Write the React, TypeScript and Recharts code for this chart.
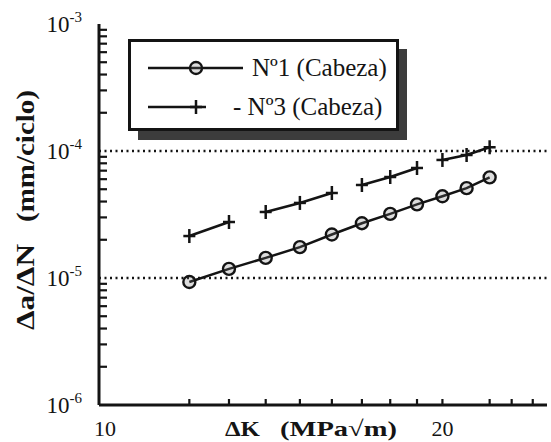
import React from 'react';
import { LineChart, Line, XAxis, YAxis, ReferenceLine, Legend } from 'recharts';

// ΔK (MPa√m)
const kValues = [12, 13, 14, 15, 16, 17, 18, 19, 20, 21, 22];
// Nº1 (Cabeza) da/dN (mm/ciclo)
const serieN1 = [9.3e-6, 1.18e-5, 1.44e-5, 1.75e-5, 2.2e-5, 2.7e-5, 3.2e-5, 3.8e-5, 4.4e-5, 5.1e-5, 6.2e-5];
// Nº3 (Cabeza) da/dN (mm/ciclo)
const serieN3 = [2.14e-5, 2.76e-5, 3.31e-5, 3.9e-5, 4.67e-5, 5.4e-5, 6.24e-5, 7.35e-5, 8.5e-5, 9.3e-5, 1.07e-4];
// segment of the Nº3 curve each point belongs to (the curve is drawn in pieces)
const serieN3Segment = [0, 0, 1, 1, 1, 2, 2, 2, 3, 3, 3];
const seriesNames = ['Nº1 (Cabeza)', '- Nº3 (Cabeza)'];

const xDomain = [10, 24.7];
const xTicks = [10, 12, 13, 14, 15, 16, 17, 18, 19, 20, 22, 23, 24];
const xLabelled = [10, 20];
const yDomain = [1e-6, 1e-3];
const yTicks = [
  1e-6, 2e-6, 3e-6, 4e-6, 5e-6, 6e-6, 7e-6, 8e-6, 9e-6,
  1e-5, 2e-5, 3e-5, 4e-5, 5e-5, 6e-5, 7e-5, 8e-5, 9e-5,
  1e-4, 2e-4, 3e-4, 4e-4, 5e-4, 6e-4, 7e-4, 8e-4, 9e-4,
  1e-3,
];
const dottedLevels = [1e-4, 1e-5];
const xTitleParts = ['ΔK', '(MPa√m)'];
const yTitleParts = ['Δa/ΔN', '(mm/ciclo)'];

const segKeys = ['n3a', 'n3b', 'n3c', 'n3d'];
const data = kValues.map((k, i) => {
  const row: any = { k, n1: serieN1[i] };
  segKeys.forEach((key, s) => {
    row[key] = serieN3Segment[i] === s ? serieN3[i] : null;
  });
  return row;
});

const W = 551;
const H = 442;
const PL = 99;
const PR = 547;
const PT = 24;
const PB = 405;
const INK = '#141414';
const FONT = 'Liberation Serif, Times New Roman, DejaVu Serif, serif';
const serif = { fontFamily: FONT };

const isDecade = (v: number) => Math.abs(Math.log10(v) - Math.round(Math.log10(v))) < 1e-6;

const LeftTick = (props: any) => {
  const { y, payload } = props;
  const v = payload.value;
  if (isDecade(v)) {
    const e = Math.round(Math.log10(v));
    return (
      <text x={PL - 17} y={y + 8} textAnchor="end" style={serif} fontSize={23} fill={INK}>
        <tspan>10</tspan>
        <tspan dy={-10} fontSize={15}>{String(e)}</tspan>
      </text>
    );
  }
  return <line x1={PL} x2={PL + 8} y1={y} y2={y} stroke={INK} strokeWidth={2.2} />;
};

const RightTick = (props: any) => {
  const { y, payload } = props;
  if (payload.value === yDomain[0] || payload.value === yDomain[1]) return <g />;
  return <line x1={PR} x2={PR - 6} y1={y} y2={y} stroke={INK} strokeWidth={2.2} />;
};

const BottomTick = (props: any) => {
  const { x, payload } = props;
  const v = payload.value;
  return (
    <g>
      {v !== xDomain[0] && <line x1={x} x2={x} y1={PB} y2={PB - 6} stroke={INK} strokeWidth={2.2} />}
      {xLabelled.includes(v) && (
        <text x={x + (v === xDomain[0] ? 6 : 0)} y={PB + 31} textAnchor="middle" style={serif} fontSize={22} fill={INK}>
          {String(v)}
        </text>
      )}
    </g>
  );
};

const TopTick = (props: any) => {
  const { x, payload } = props;
  if (payload.value === xDomain[0]) return <g />;
  return <line x1={x} x2={x} y1={PT} y2={PT + 7} stroke={INK} strokeWidth={2.2} />;
};

const CircleDot = (props: any) => {
  const { cx, cy, index } = props;
  if (cx == null || cy == null) return <g key={index} />;
  return <circle key={index} cx={cx} cy={cy} r={6} fill="rgba(120,120,120,0.25)" stroke={INK} strokeWidth={2.4} />;
};

const CrossDot = (props: any) => {
  const { cx, cy, index, value } = props;
  if (cx == null || cy == null || value == null) return <g key={index} />;
  return (
    <g key={index}>
      <line x1={cx - 6} x2={cx + 6} y1={cy} y2={cy} stroke={INK} strokeWidth={2.5} />
      <line x1={cx} x2={cx} y1={cy - 7} y2={cy + 7} stroke={INK} strokeWidth={2.5} />
    </g>
  );
};

const LegendBox = () => (
  <svg width={290} height={110} style={{ display: 'block' }}>
    <rect x={10} y={10} width={269} height={91} fill="#3c3c3c" />
    <rect x={1.5} y={1.5} width={268} height={89} fill="#fff" stroke={INK} strokeWidth={3} />
    <line x1={20} x2={115} y1={29} y2={29} stroke={INK} strokeWidth={2.5} />
    <circle cx={68} cy={29} r={6} fill="rgba(120,120,120,0.25)" stroke={INK} strokeWidth={2.4} />
    <text x={124} y={37} style={serif} fontSize={25} fill={INK}>{seriesNames[0]}</text>
    <line x1={20} x2={78} y1={68} y2={68} stroke={INK} strokeWidth={2.5} />
    <line x1={62} x2={74} y1={68} y2={68} stroke={INK} strokeWidth={2.5} />
    <line x1={68} x2={68} y1={61} y2={75} stroke={INK} strokeWidth={2.5} />
    <text x={105} y={76} style={serif} fontSize={25} fill={INK}>{seriesNames[1]}</text>
  </svg>
);

export default function App() {
  return (
    <div style={{ position: 'absolute', left: 0, top: 0, width: W, height: H, background: '#fff' }}>
      <LineChart
        width={W}
        height={H}
        data={data}
        margin={{ top: PT, right: W - PR, bottom: 0, left: 0 }}
      >
        <XAxis
          xAxisId="bottom"
          dataKey="k"
          type="number"
          scale="log"
          domain={xDomain}
          ticks={xTicks}
          allowDataOverflow
          interval={0}
          height={H - PB}
          axisLine={{ stroke: INK, strokeWidth: 3 }}
          tickLine={false}
          tick={<BottomTick />}
        />
        <XAxis
          xAxisId="top"
          orientation="top"
          dataKey="k"
          type="number"
          scale="log"
          domain={xDomain}
          ticks={xTicks}
          allowDataOverflow
          interval={0}
          height={0}
          axisLine={{ stroke: INK, strokeWidth: 3 }}
          tickLine={false}
          tick={<TopTick />}
        />
        <YAxis
          yAxisId="left"
          type="number"
          scale="log"
          domain={yDomain}
          ticks={yTicks}
          allowDataOverflow
          interval={0}
          width={PL}
          axisLine={{ stroke: INK, strokeWidth: 3 }}
          tickLine={false}
          tick={<LeftTick />}
        />
        <YAxis
          yAxisId="right"
          orientation="right"
          type="number"
          scale="log"
          domain={yDomain}
          ticks={yTicks}
          allowDataOverflow
          interval={0}
          width={0}
          axisLine={{ stroke: INK, strokeWidth: 3 }}
          tickLine={false}
          tick={<RightTick />}
        />
        {dottedLevels.map((lv) => (
          <ReferenceLine
            key={lv}
            xAxisId="bottom"
            yAxisId="left"
            y={lv}
            stroke={INK}
            strokeWidth={2.5}
            strokeDasharray="2 3.5"
          />
        ))}
        <Line
          xAxisId="bottom"
          yAxisId="left"
          dataKey="n1"
          name={seriesNames[0]}
          stroke={INK}
          strokeWidth={2.5}
          dot={<CircleDot />}
          isAnimationActive={false}
        />
        {segKeys.map((key, s) => (
          <Line
            key={key}
            xAxisId="bottom"
            yAxisId="left"
            dataKey={key}
            name={s === 0 ? seriesNames[1] : undefined}
            stroke={INK}
            strokeWidth={2.5}
            dot={<CrossDot />}
            connectNulls={false}
            isAnimationActive={false}
          />
        ))}
        <Legend
          layout="vertical"
          verticalAlign="middle"
          align="center"
          content={() => <LegendBox />}
          wrapperStyle={{ position: 'absolute', left: 128, top: 39, width: 290, height: 110 }}
        />
      </LineChart>
      <svg width={W} height={H} style={{ position: 'absolute', left: 0, top: 0, pointerEvents: 'none' }}>
        <g style={serif} fontWeight="bold" fill={INK}>
          <text x={225} y={PB + 31} fontSize={22} textLength={35} lengthAdjust="spacingAndGlyphs">{xTitleParts[0]}</text>
          <text x={280} y={PB + 31} fontSize={22} textLength={117} lengthAdjust="spacingAndGlyphs">{xTitleParts[1]}</text>
          <text x={0} y={0} fontSize={25} transform="translate(34, 330) rotate(-90)" textLength={86} lengthAdjust="spacingAndGlyphs">
            {yTitleParts[0]}
          </text>
          <text x={0} y={0} fontSize={25} transform="translate(34, 222) rotate(-90)" textLength={132} lengthAdjust="spacingAndGlyphs">
            {yTitleParts[1]}
          </text>
        </g>
      </svg>
    </div>
  );
}
